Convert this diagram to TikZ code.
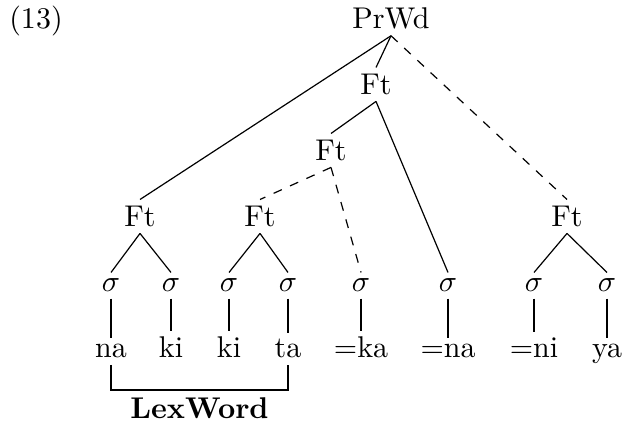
\documentclass[tikz,border=0pt]{standalone}
\usetikzlibrary{positioning}
\begin{document}
\begin{tikzpicture}[x=0.3333pt,y=-0.3333pt,
    every node/.style={anchor=base,inner ysep=2pt}]
  \useasboundingbox (0,0) rectangle (626,421);
  \draw
    (36,28.5) node (ex){(13)}
    (391,28.5) node (prwd){PrWd}
    (376,94.5) node (fta){Ft}
    (331,160.5) node (ftb){Ft}
    (140,226.5) node (ft1){Ft}
    (260,226.5) node (ft2){Ft}
    (567,226.5) node (ft3){Ft}
    (111,292) node (s1){$\sigma$}
    (171,292) node (s2){$\sigma$}
    (229,292) node (s3){$\sigma$}
    (288,292) node (s4){$\sigma$}
    (361,292) node (s5){$\sigma$}
    (448,292) node (s6){$\sigma$}
    (534,292) node (s7){$\sigma$}
    (607,292) node (s8){$\sigma$}
    (111,358) node (w1){na}
    (171,358) node (w2){ki}
    (229,358) node (w3){ki}
    (288,358) node (w4){ta}
    (361,358) node (w5){=ka}
    (448,358) node (w6){=na}
    (534,358) node (w7){=ni}
    (607,358) node (w8){ya};
  \begin{scope}[-]
    \draw (prwd.south) to (fta.north);
    \draw (prwd.south) to (ft1.north);
    \draw[dashed] (prwd.south) to (ft3.north);
    \draw (fta.south) to (ftb.north);
    \draw (fta.south) to (s6.north);
    \draw[dashed] (ftb.south) to (ft2.north);
    \draw[dashed] (ftb.south) to (s5.north);
    \draw (ft1.south) to (s1.north);
    \draw (ft1.south) to (s2.north);
    \draw (ft2.south) to (s3.north);
    \draw (ft2.south) to (s4.north);
    \draw (ft3.south) to (s7.north);
    \draw (ft3.south) to (s8.north);
    \draw (s1) to (w1);
    \draw (s2) to (w2);
    \draw (s3) to (w3);
    \draw (s4) to (w4);
    \draw (s5) to (w5);
    \draw (s6) to (w6);
    \draw (s7) to (w7);
    \draw (s8) to (w8);
  \end{scope}
  % LexWord bracket
  \coordinate (lexbot) at (199.5,390);
  \draw (w1.south) |- (lexbot) -| (w4.south);
  \node[below=0.5pt of lexbot,font=\bfseries] (lexword){LexWord};
\end{tikzpicture}
\end{document}
